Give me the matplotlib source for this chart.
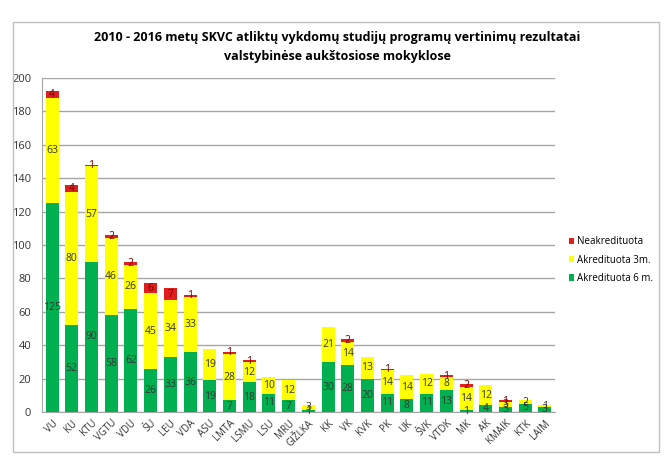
import matplotlib.pyplot as plt
import matplotlib.patches as patches
import numpy as np

plt.rcParams['font.family'] = ['Open Sans', 'DejaVu Sans']

# --- data ---
schools = ['VU', 'KU', 'KTU', 'VGTU', 'VDU', 'ŠU', 'LEU', 'VDA', 'ASU', 'LMTA',
           'LSMU', 'LSU', 'MRU', 'GIŽLKA', 'KK', 'VK', 'KVK', 'PK', 'UK', 'ŠVK',
           'VTDK', 'MK', 'AK', 'KMAIK', 'KTK', 'LAIM']
acc6 = [125, 52, 90, 58, 62, 26, 33, 36, 19, 7, 18, 11, 7, 1, 30, 28, 20, 11, 8, 11,
        13, 1, 4, 3, 5, 3]
acc3 = [63, 80, 57, 46, 26, 45, 34, 33, 19, 28, 12, 10, 12, 3, 21, 14, 13, 14, 14, 12,
        8, 14, 12, 3, 2, 1]
notacc = [4, 4, 1, 2, 2, 6, 7, 1, 0, 1, 1, 0, 0, 0, 0, 2, 0, 1, 0, 0,
          1, 2, 0, 1, 0, 0]

green = '#00B050'
yellow = '#FFFF00'
red = '#E01E1E'

fig = plt.figure(figsize=(6.7, 4.61), dpi=100)
fig.patches.append(patches.Rectangle((0.019, 0.02), 0.964, 0.933, transform=fig.transFigure,
                                     fill=False, ec='#BFBFBF', lw=1))
ax = fig.add_axes([0.063, 0.106, 0.765, 0.725])

x = np.arange(len(schools))
a6 = np.array(acc6)
a3 = np.array(acc3)
na = np.array(notacc)
w = 0.66
ax.bar(x, a6, w, color=green, label='Akredituota 6 m.', zorder=3)
ax.bar(x, a3, w, bottom=a6, color=yellow, label='Akredituota 3m.', zorder=3)
ax.bar(x, na, w, bottom=a6 + a3, color=red, label='Neakredituota', zorder=3)

# segment labels
for i in x:
    if a6[i] > 0:
        ax.text(i, a6[i] / 2, str(a6[i]), ha='center', va='center', fontsize=7.5,
                color='#333333', zorder=4)
    if a3[i] > 0:
        ax.text(i, a6[i] + a3[i] / 2, str(a3[i]), ha='center', va='center', fontsize=7.5,
                color='#333333', zorder=4)
    if na[i] > 0:
        ax.text(i, a6[i] + a3[i] + na[i] / 2, str(na[i]), ha='center', va='center',
                fontsize=7.5, color='#7A0000', zorder=4)

ax.set_xlim(-0.5, len(schools) - 0.5)
ax.set_ylim(0, 200)
ax.set_yticks(range(0, 201, 20))
ax.yaxis.grid(True, color='#A6A6A6', lw=1)
ax.set_axisbelow(True)
ax.tick_params(axis='y', labelsize=8, length=0, pad=8, colors='#333333')
ax.set_xticks(x)
ax.set_xticklabels(schools, rotation=45, ha='right', rotation_mode='anchor',
                   fontsize=7, color='#333333')
ax.tick_params(axis='x', length=0, pad=4)
for s in ['top', 'right']:
    ax.spines[s].set_visible(False)
ax.spines['left'].set_color('#A6A6A6')
ax.spines['bottom'].set_color('#A6A6A6')

handles, labels = ax.get_legend_handles_labels()
ax.legend(handles[::-1], labels[::-1], loc='center left', bbox_to_anchor=(1.01, 0.455),
          frameon=False, fontsize=7, handlelength=0.6, handleheight=0.6,
          handletextpad=0.3, labelspacing=0.75)

fig.text(0.503, 0.898, '2010 - 2016 metų SKVC atliktų vykdomų studijų programų vertinimų rezultatai\n'
         'valstybinėse aukštosiose mokyklose', ha='center', va='center',
         fontsize=9, fontweight='bold', linespacing=1.55)

fig.savefig('out.png', dpi=100)
